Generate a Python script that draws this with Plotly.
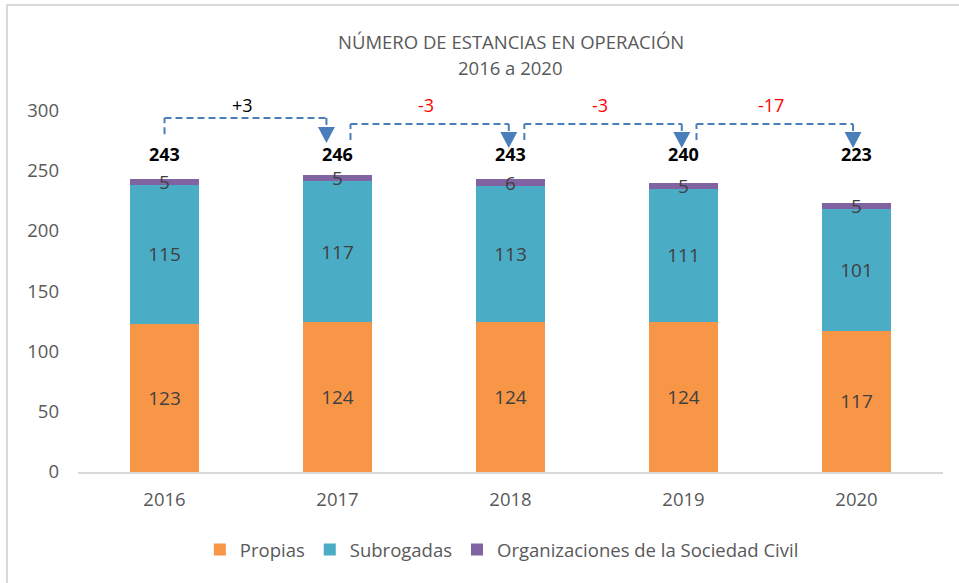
import plotly.graph_objects as go

# ---------------- data ----------------
years = ["2016", "2017", "2018", "2019", "2020"]
propias = [123, 124, 124, 124, 117]
subrogadas = [115, 117, 113, 111, 101]
osc = [5, 5, 6, 5, 5]
series_names = ["Propias", "Subrogadas", "Organizaciones de la Sociedad Civil"]
title_lines = ["NÚMERO DE ESTANCIAS EN OPERACIÓN", "2016 a 2020"]
y_ticks = [0, 50, 100, 150, 200, 250, 300]

totals = [p + s + o for p, s, o in zip(propias, subrogadas, osc)]
changes = [totals[i + 1] - totals[i] for i in range(len(totals) - 1)]

# ---------------- style ----------------
COLORS = ["#F79646", "#4BACC6", "#8064A2"]
FONT = "Open Sans"
GREY = "#595959"
SEG_TXT = "#404040"
ARROW = "#4A7EBB"
Y_MAX = 320
TOTAL_LABEL_Y = 263.5
CHANGE_LABEL_Y = 304
W, H = 959, 583
ML, MR, MT, MB = 78, 16, 86, 111
PLOT_H = H - MT - MB

fig = go.Figure()
for name, vals, col in zip(series_names, [propias, subrogadas, osc], COLORS):
    fig.add_trace(go.Bar(
        x=years, y=vals, name=name, marker=dict(color=col, line=dict(width=0)),
        text=[str(v) for v in vals], textposition="inside", textangle=0,
        insidetextanchor="middle", constraintext="none",
        textfont=dict(family=FONT, size=19, color=SEG_TXT),
        hoverinfo="skip",
    ))

annotations = []
# title lines
for txt, py in zip(title_lines, [41, 67]):
    annotations.append(dict(x=0.5, xref="paper", xanchor="center",
                            y=(H - MB - py) / PLOT_H, yref="paper", yanchor="middle",
                            text=txt, showarrow=False,
                            font=dict(family=FONT, size=18.5, color=GREY)))
# totals
for i, t in enumerate(totals):
    annotations.append(dict(x=i, y=TOTAL_LABEL_Y, xref="x", yref="y", text=f"<b>{t}</b>",
                            showarrow=False, font=dict(family=FONT, size=18, color="black")))

shapes = []
# bracket geometry (category-index offsets and data-unit heights)
brackets = [
    # start_off, end_off, y_low, y_high, tri_base, tri_tip
    (0.0, -0.064, 280.0, 293.5, 286.0, 272.7),
    (0.075, -0.01, 275.2, 288.5, 281.9, 268.6),
    (0.08, -0.01, 275.2, 288.5, 281.9, 268.6),
    (0.075, -0.02, 275.2, 288.5, 281.9, 268.6),
]
HALF_W = 0.049
for i, (chg, (so, eo, ylo, yhi, tb, tt)) in enumerate(zip(changes, brackets)):
    xs = i + so
    xe = i + 1 + eo
    line = dict(color=ARROW, width=2, dash="7px,4px")
    shapes.append(dict(type="line", xref="x", yref="y", x0=xs, x1=xs, y0=ylo, y1=yhi, line=line))
    shapes.append(dict(type="line", xref="x", yref="y", x0=xs, x1=xe, y0=yhi, y1=yhi, line=line))
    shapes.append(dict(type="line", xref="x", yref="y", x0=xe, x1=xe, y0=yhi, y1=tb, line=line))
    shapes.append(dict(type="path", xref="x", yref="y",
                       path=f"M {xe - HALF_W} {tb} L {xe + HALF_W} {tb} L {xe} {tt} Z",
                       fillcolor=ARROW, line=dict(color=ARROW, width=0)))
    txt = f"+{chg}" if chg > 0 else f"{chg}"
    col = "black" if chg > 0 else "#FF0000"
    annotations.append(dict(x=(xs + xe) / 2 - 0.02, y=CHANGE_LABEL_Y, xref="x", yref="y", text=txt,
                            showarrow=False, font=dict(family=FONT, size=18, color=col)))

# outer chart border
shapes.append(dict(type="rect", xref="paper", yref="paper",
                   x0=(7 - ML) / (W - ML - MR), x1=1.2,
                   y0=-0.5, y1=(H - MB - 5) / PLOT_H,
                   line=dict(color="#D9D9D9", width=2), fillcolor="rgba(0,0,0,0)", layer="below"))

fig.update_layout(
    width=W, height=H,
    margin=dict(l=ML, r=MR, t=MT, b=MB, autoexpand=False),
    paper_bgcolor="white", plot_bgcolor="white",
    barmode="stack", bargap=0.6,
    font=dict(family=FONT, size=18, color=GREY),
    uniformtext=dict(mode="show", minsize=19),
    showlegend=True,
    legend=dict(orientation="h", x=0.49, xanchor="center", y=(472 - 550) / PLOT_H, yanchor="middle",
                font=dict(family=FONT, size=18.5, color=GREY), traceorder="normal",
                itemclick=False, itemdoubleclick=False),
    annotations=annotations,
    shapes=shapes,
)
fig.update_xaxes(type="category", showline=True, linecolor="#D9D9D9", linewidth=2,
                 showgrid=False, ticks="", ticklabelstandoff=10, automargin=False,
                 tickfont=dict(size=18.5, color=GREY))
fig.update_yaxes(range=[0, Y_MAX], tickvals=y_ticks, showgrid=False, zeroline=False,
                 showline=False, ticks="", ticklabelstandoff=18, automargin=False,
                 tickfont=dict(size=18.5, color=GREY))

fig.write_html("out.html", config={"displayModeBar": False, "staticPlot": True},
               post_script="document.body.style.margin='0';document.body.style.overflow='hidden';")
